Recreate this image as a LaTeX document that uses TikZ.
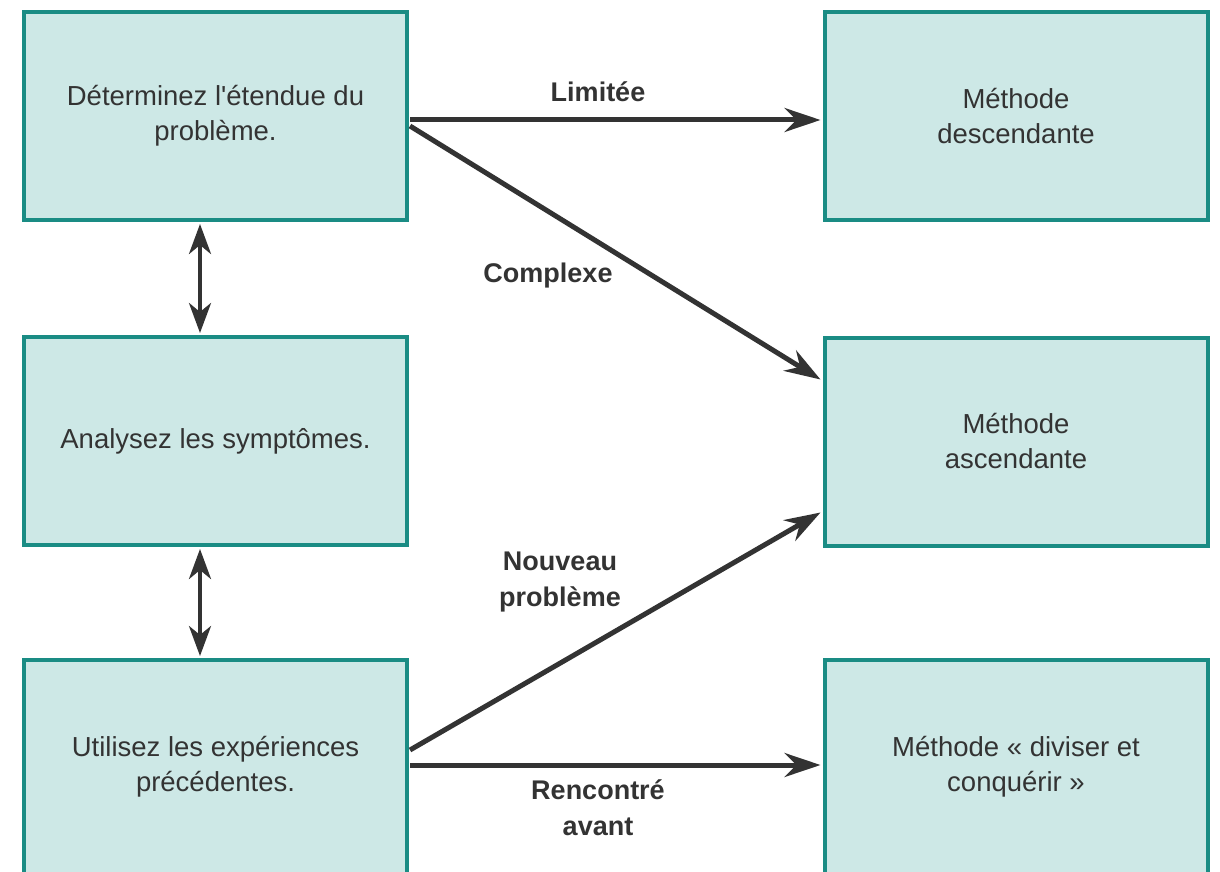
\documentclass[tikz,border=0pt]{standalone}
\usepackage{fontspec}
\setmainfont{Liberation Sans}[Ligatures=TeXOff]
\usetikzlibrary{arrows.meta}
\definecolor{boxfill}{HTML}{CDE8E6}
\definecolor{boxline}{HTML}{1A8C84}
\definecolor{ink}{HTML}{333333}
\tikzset{
  box/.style={draw=boxline, fill=boxfill, line width=4pt, minimum width=383pt,
    minimum height=208pt, inner sep=0pt, align=center, text=ink,
    font=\fontsize{27.5}{35}\selectfont},
  lbl/.style={text=ink, align=center, inner sep=0pt,
    font=\fontsize{27}{36}\selectfont\bfseries},
  arr/.style={draw=ink, line width=5pt,
    -{Stealth[length=36pt,width=24pt,inset=12pt]}},
  dbl/.style={draw=ink, line width=4pt,
    {Stealth[length=30pt,width=22pt,inset=9pt]}-{Stealth[length=30pt,width=22pt,inset=9pt]}}
}
\begin{document}
\begin{tikzpicture}[x=1pt,y=-1pt]
\useasboundingbox (0,0) rectangle (1220,872);
\clip (0,0) rectangle (1220,872);
% left column
\node[box] (d1) at (215.5,116) {Déterminez l'étendue du\\problème.};
\node[box] (d2) at (215.5,441) {Analysez les symptômes.};
\node[box, minimum height=214pt] (d3) at (215.5,767) {Utilisez les expériences\\précédentes.};
% right column
\node[box] (r1) at (1016,116) {Méthode\\descendante};
\node[box] (r2) at (1016,441.5) {Méthode\\ascendante};
\node[box, minimum height=214pt] (r3) at (1016,767) {Méthode « diviser et\\conquérir »};
% vertical double arrows
\draw[dbl] ([xshift=-15.5pt,yshift=-2pt]d1.south) -- ([xshift=-15.5pt,yshift=2pt]d2.north);
\draw[dbl] ([xshift=-15.5pt,yshift=-2pt]d2.south) -- ([xshift=-15.5pt,yshift=2pt]d3.north);
% arrows
\draw[arr] ([xshift=1pt,yshift=-4pt]d1.east) -- ([xshift=-2pt,yshift=-4pt]r1.west);
\draw[arr] ([xshift=1pt,yshift=-10pt]d1.east) -- ([xshift=-2pt,yshift=62pt]r2.west);
\draw[arr] ([xshift=1pt,yshift=17pt]d3.east) -- ([xshift=-2pt,yshift=-71pt]r2.west);
\draw[arr] ([xshift=1pt,yshift=2pt]d3.east) -- ([xshift=-2pt,yshift=2pt]r3.west);
% labels
\node[lbl] (l1) at (598,92) {Limitée};
\node[lbl] (l2) at (548,276) {Complexe};
\node[lbl] (l3) at (560,582) {Nouveau\\problème};
\node[lbl] (l4) at (598,808) {Rencontré\\avant};
\end{tikzpicture}
\end{document}
